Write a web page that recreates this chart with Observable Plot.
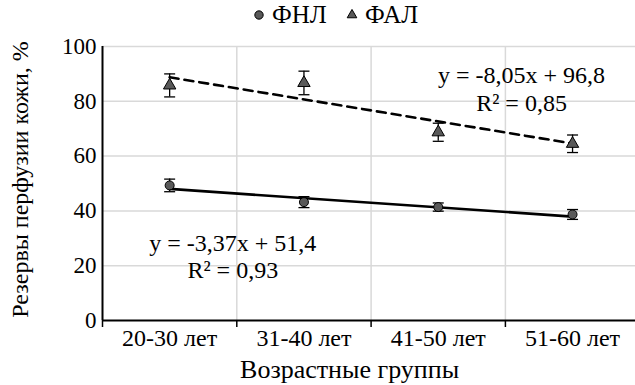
<!DOCTYPE html>
<html>
<head>
<meta charset="utf-8">
<script src="https://cdn.jsdelivr.net/npm/d3@7"></script>
<script src="https://cdn.jsdelivr.net/npm/@observablehq/plot@0.6"></script>
<style>
  html, body { margin: 0; padding: 0; background: #fff; overflow: hidden; }
  body { width: 635px; height: 385px; }
  #legend { position: relative; height: 34px; font-family: 'Liberation Serif', serif; font-size: 25px; color: #000; }
  #legend .item { position: absolute; top: 1px; display: flex; align-items: center; gap: 6px; }
  #chart svg { overflow: visible; }
  #chart svg text { font-family: 'Liberation Serif', serif; }
</style>
</head>
<body>
<div id="legend"></div>
<div id="chart"></div>
<script>
// Age groups on the x axis
const groups = ["20-30 лет", "31-40 лет", "41-50 лет", "51-60 лет"];

// ФНЛ series: mean and error
const fnlValues = [49.3, 43.2, 41.4, 38.7];
const fnlErrors = [2.3, 2.0, 1.5, 1.8];

// ФАЛ series: mean and error
const falValues = [85.8, 86.7, 68.7, 64.5];
const falErrors = [4.2, 4.3, 3.3, 3.2];

// Linear trend lines (y = slope·x + intercept) and their R²
const fnlTrend = {slope: -3.37, intercept: 51.4, r2: 0.93};
const falTrend = {slope: -8.05, intercept: 96.8, r2: 0.85};

const yTicks = [0, 20, 40, 60, 80, 100];

const fmt = v => String(v).replace(".", ",");

const rows = (values, errors) => values.map((v, i) => ({x: i + 1, v, lo: v - errors[i], hi: v + errors[i]}));
const fnl = rows(fnlValues, fnlErrors);
const fal = rows(falValues, falErrors);

const trendPoints = t => [1, groups.length].map(x => ({x, y: t.slope * x + t.intercept}));

// Horizontal cap used at the ends of the error bars
const cap = {draw(ctx, size) { const w = Math.sqrt(size / Math.PI); ctx.moveTo(-w, 0); ctx.lineTo(w, 0); }};

const serif = "'Liberation Serif', serif";
const labelFont = {fontFamily: serif, fontSize: 24, fill: "#000"};

const boundaries = d3.range(0.5, groups.length + 0.5, 1);

const plot = Plot.plot({
  width: 635,
  height: 351,
  marginTop: 12,
  marginBottom: 65,
  marginLeft: 102,
  marginRight: 0,
  style: {fontFamily: serif, fontSize: "24px", color: "#000", background: "#fff"},
  x: {domain: [0.5, groups.length + 0.5], range: [102, 102 + 134.3 * groups.length]},
  y: {domain: [0, 100]},
  marks: [
    // grid
    Plot.ruleY(yTicks.filter(d => d > 0), {stroke: "#d9d9d9", strokeWidth: 1.5, x1: 0.5, x2: groups.length + 0.5}),
    Plot.ruleX(boundaries.slice(1).concat([groups.length + 0.5]), {stroke: "#d9d9d9", strokeWidth: 1.5, y1: 0, y2: 100}),
    // axes
    Plot.axisY({ticks: yTicks, tickSize: 0, tickPadding: 6, label: null, ...labelFont, fontSize: 23}),
    Plot.axisX({ticks: d3.range(1, groups.length + 1), tickSize: 0, tickPadding: 8, tickFormat: i => groups[i - 1], label: null, ...labelFont}),
    Plot.axisX({ticks: boundaries, tickSize: 7, tickFormat: () => "", label: null, strokeWidth: 1.5}),
    Plot.ruleY([0], {stroke: "#000", strokeWidth: 2}),
    Plot.ruleX([0.5], {stroke: "#000", strokeWidth: 2, y1: 0, y2: 100}),
    // trend lines
    Plot.line(trendPoints(falTrend), {x: "x", y: "y", stroke: "#000", strokeWidth: 2.6, strokeDasharray: "9,6"}),
    Plot.line(trendPoints(fnlTrend), {x: "x", y: "y", stroke: "#000", strokeWidth: 2.6}),
    // error bars
    Plot.ruleX(fal, {x: "x", y1: "lo", y2: "hi", stroke: "#000", strokeWidth: 1.3}),
    Plot.ruleX(fnl, {x: "x", y1: "lo", y2: "hi", stroke: "#000", strokeWidth: 1.3}),
    Plot.dot(fal, {x: "x", y: "lo", symbol: cap, r: 5.5, stroke: "#000", strokeWidth: 1.3}),
    Plot.dot(fal, {x: "x", y: "hi", symbol: cap, r: 5.5, stroke: "#000", strokeWidth: 1.3}),
    Plot.dot(fnl, {x: "x", y: "lo", symbol: cap, r: 5.5, stroke: "#000", strokeWidth: 1.3}),
    Plot.dot(fnl, {x: "x", y: "hi", symbol: cap, r: 5.5, stroke: "#000", strokeWidth: 1.3}),
    // markers
    Plot.dot(fal, {x: "x", y: "v", symbol: "triangle", r: 4.6, fill: "#595959", stroke: "#000", strokeWidth: 1}),
    Plot.dot(fnl, {x: "x", y: "v", symbol: "circle", r: 4.5, fill: "#595959", stroke: "#000", strokeWidth: 1}),
    // trend equations
    Plot.text([`y = ${fmt(falTrend.slope)}x + ${fmt(falTrend.intercept)}`], {x: 3.62, y: 89.4, ...labelFont}),
    Plot.text([`R² = ${fmt(falTrend.r2)}`], {x: 3.62, y: 79.4, ...labelFont}),
    Plot.text([`y = ${fmt(fnlTrend.slope)}x + ${fmt(fnlTrend.intercept)}`], {x: 1.47, y: 28, ...labelFont}),
    Plot.text([`R² = ${fmt(fnlTrend.r2)}`], {x: 1.47, y: 18.2, ...labelFont}),
    // axis titles
    Plot.text(["Резервы перфузии кожи, %"], {frameAnchor: "left", textAnchor: "middle", dx: -82, dy: -4, rotate: -90, ...labelFont}),
    Plot.text(["Возрастные группы"], {x: 2.34, frameAnchor: "bottom", lineAnchor: "middle", dy: 49, ...labelFont, fontSize: 26})
  ]
});
document.getElementById("chart").appendChild(plot);

// Legend above the chart
const legend = document.getElementById("legend");
const items = [
  {name: "ФНЛ", symbol: d3.symbolCircle, size: 55, left: 252},
  {name: "ФАЛ", symbol: d3.symbolTriangle, size: 40, left: 345}
];
for (const it of items) {
  const div = document.createElement("div");
  div.className = "item";
  div.style.left = it.left + "px";
  const svg = d3.create("svg").attr("width", 14).attr("height", 14).attr("viewBox", "-7 -7 14 14");
  svg.append("path").attr("d", d3.symbol(it.symbol, it.size)()).attr("fill", "#595959").attr("stroke", "#000").attr("stroke-width", 1);
  div.appendChild(svg.node());
  const span = document.createElement("span");
  span.textContent = it.name;
  div.appendChild(span);
  legend.appendChild(div);
}
</script>
</body>
</html>
